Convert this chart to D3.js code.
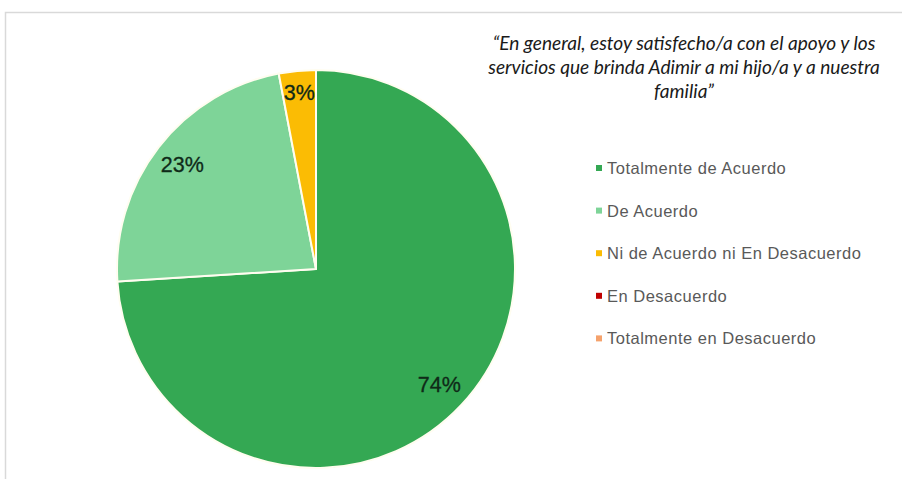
<!DOCTYPE html>
<html>
<head>
<meta charset="utf-8">
<script src="https://cdn.jsdelivr.net/npm/d3@7"></script>
<style>
  html, body { margin: 0; padding: 0; background: #fff; }
  svg { display: block; }
</style>
</head>
<body>
<svg id="chart" width="902" height="479"></svg>
<script>
// Survey answers and their share of respondents (%)
const categories = [
  "Totalmente de Acuerdo",
  "De Acuerdo",
  "Ni de Acuerdo ni En Desacuerdo",
  "En Desacuerdo",
  "Totalmente en Desacuerdo"
];
const values = [74, 23, 3, 0, 0];
const colors = ["#34a853", "#7ed498", "#fbbc04", "#c00000", "#f5a26c"];
const titleLines = [
  "\u201cEn general, estoy satisfecho/a con el apoyo y los",
  "servicios que brinda Adimir a mi hijo/a y a nuestra",
  "familia\u201d"
];

const svg = d3.select("#chart");

// Chart frame
svg.append("rect")
  .attr("x", 5.5).attr("y", 12.5)
  .attr("width", 1000).attr("height", 1000)
  .attr("fill", "none")
  .attr("stroke", "#d9d9d9")
  .attr("stroke-width", 1.5);

// Pie
const cx = 316, cy = 269, R = 199;
const data = categories.map((c, i) => ({ name: c, value: values[i], color: colors[i] }));
const pie = d3.pie().value(d => d.value).sort(null);
const arcs = pie(data).filter(a => a.data.value > 0);
const arc = d3.arc().innerRadius(0).outerRadius(R);

const g = svg.append("g").attr("transform", `translate(${cx},${cy})`);
g.selectAll("path.slice")
  .data(arcs)
  .join("path")
  .attr("class", "slice")
  .attr("d", arc)
  .attr("fill", d => d.data.color)
  .attr("stroke", "#fffdf0")
  .attr("stroke-width", 2)
  .attr("stroke-linejoin", "round");

// Percentage labels inside the slices; thin slices get theirs nearer the rim
g.selectAll("text.label")
  .data(arcs)
  .join("text")
  .attr("class", "label")
  .attr("transform", d => {
    const share = d.data.value / d3.sum(values);
    const r = R * (share < 0.05 ? 0.89 : 0.85);
    const a = (d.startAngle + d.endAngle) / 2;
    return `translate(${r * Math.sin(a)},${-r * Math.cos(a)})`;
  })
  .attr("text-anchor", "middle")
  .attr("dominant-baseline", "central")
  .attr("font-family", "Liberation Sans, Arial, sans-serif")
  .attr("font-size", 21.5)
  .attr("fill", "#0f2a18")
  .attr("stroke", "#0f2a18")
  .attr("stroke-width", 0.3)
  .text(d => d.data.value + "%");

// Title
svg.append("text")
  .attr("x", 684)
  .attr("y", 50)
  .attr("text-anchor", "middle")
  .attr("font-family", "Lato, 'Open Sans', sans-serif")
  .attr("font-style", "italic")
  .attr("font-size", 19.1)
  .attr("fill", "#1a1a1a")
  .selectAll("tspan")
  .data(titleLines)
  .join("tspan")
  .attr("x", 684)
  .attr("dy", (d, i) => i === 0 ? 0 : 24)
  .text(d => d);

// Legend
const legend = svg.append("g").attr("transform", "translate(596,168)");
const row = legend.selectAll("g")
  .data(data)
  .join("g")
  .attr("transform", (d, i) => `translate(0,${i * 42.6})`);
row.append("rect")
  .attr("x", 0).attr("y", -3)
  .attr("width", 6).attr("height", 6)
  .attr("fill", d => d.color);
row.append("text")
  .attr("x", 11)
  .attr("y", 0)
  .attr("dominant-baseline", "central")
  .attr("font-family", "Liberation Sans, Arial, sans-serif")
  .attr("font-size", 16.5)
  .attr("letter-spacing", 0.5)
  .attr("fill", "#595959")
  .text(d => d.name);
</script>
</body>
</html>
